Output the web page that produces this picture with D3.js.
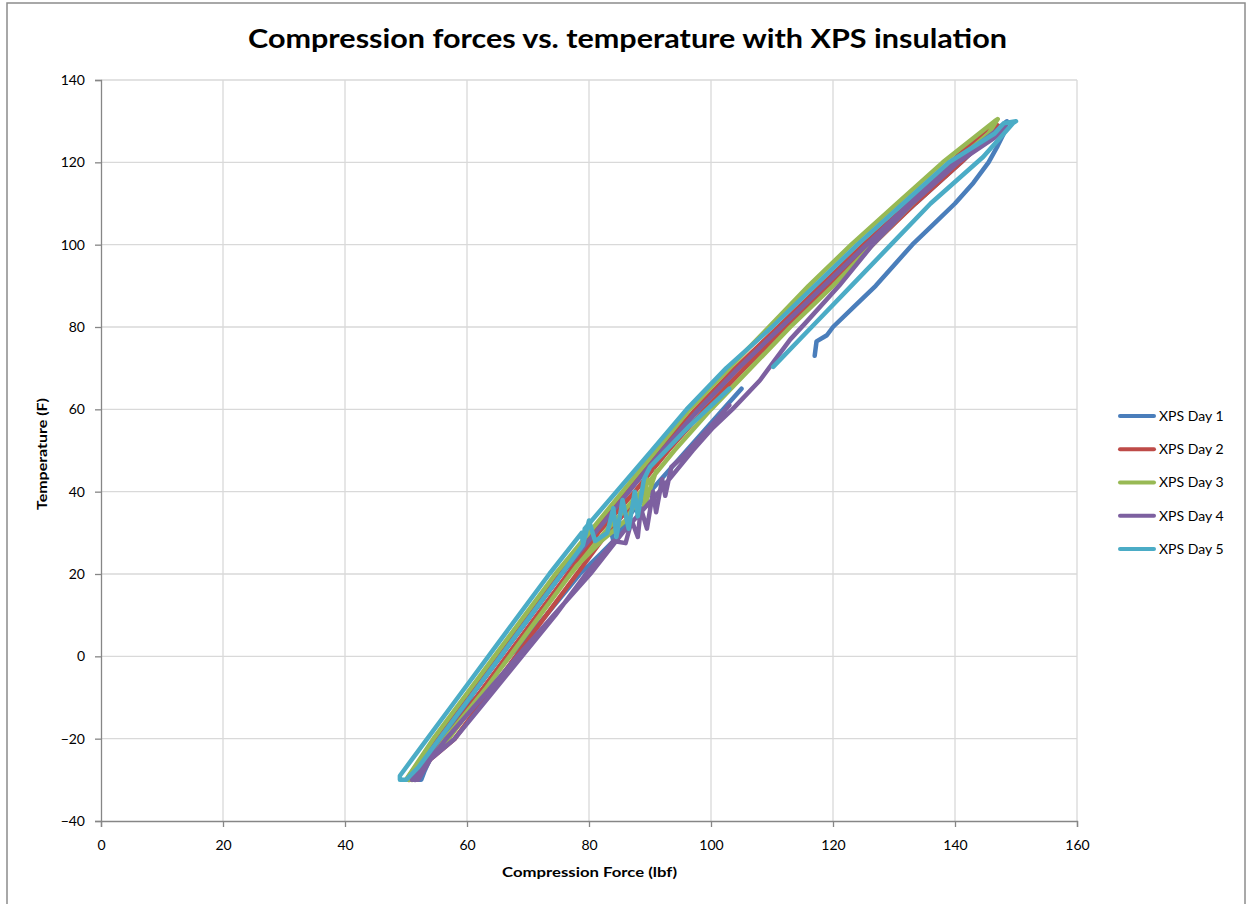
<!DOCTYPE html>
<html><head><meta charset="utf-8">
<script src="https://cdn.jsdelivr.net/npm/d3@7"></script>
<style>
html,body{margin:0;padding:0;background:#fff;}
svg{display:block;}
</style></head>
<body>
<svg id="chart" width="1249" height="904"></svg>
<script>
// ---- Data (Compression force lbf, Temperature F) ----
const xTicks = [0, 20, 40, 60, 80, 100, 120, 140, 160];
const yTicks = [-40, -20, 0, 20, 40, 60, 80, 100, 120, 140];
const seriesNames = ["XPS Day 1", "XPS Day 2", "XPS Day 3", "XPS Day 4", "XPS Day 5"];
const seriesColors = ["#4A7EBB", "#BE4B48", "#98B954", "#7D60A0", "#4BACC6"];

const day1 = [
  [117,73],[117.3,76.5],[119,78],[120,80],[123.5,85],[127,90],[130,95],[133,100],[136.5,105],
  [140,110],[143,115],[145.5,120],[147,124],[148,127],[148.5,130],
  [146,127],[141,120],[133.5,110],[126,100],[119,90],[112,80],[104.5,70],[98,60],[92,50],
  [86.5,40],[81,30],[75.5,20],[70.5,10],[65.5,0],[60.5,-10],[55.5,-20],[51.5,-30],
  [52.5,-30],[53,-28],[55.5,-20],[61.5,-10],[67,0],[73,10],[78.5,20],[82,25],[84,28],
  [83.5,31],[85,30],[87,35],[90,40],[96,50],[102,60],[105,65]
];
const day2 = [
  [50.5,-30],[52,-27],[56.5,-20],[61.5,-10],[66.5,0],[71.5,10],[76.5,20],[81.5,30],[87.5,40],
  [93,50],[99,60],[105.5,70],[112.5,80],[119.5,90],[126.5,100],[133.5,110],[141,120],
  [146.5,128],[147,129],
  [146,129],[140,121],[132.5,110],[125,100],[118,90],[111,80],[104,70],[97.5,60],[91.5,50],
  [86,40],[80.5,30],[75,20],[70,10],[65,0],[60,-10],[55,-20],[50.5,-29],[50.5,-30],
  [51.5,-30],[54,-25],[58,-20],[63,-10],[68,0],[73,10],[78,20],[83,30],[86,35],[89,40]
];
const day3 = [
  [51,-30],[53,-26],[57,-20],[62,-10],[67,0],[72,10],[77,20],[82.5,30],[88.5,40],[94,50],
  [100,60],[106.5,70],[113,80],[120,90],[126.5,100],[133,110],[140,120],[145.5,127],[147,130.5],
  [146.5,130],[138,120],[130.5,110],[123,100],[116,90],[109.5,80],[103,70],[96.5,60],[91,50],
  [85.5,40],[80,30],[74.5,20],[69.5,10],[64.5,0],[59.5,-10],[54.5,-20],[50,-30],
  [50.5,-30],[53.5,-24],[57.5,-18],[63,-8],[68,2],[73,12],[78,22],[82,28],[86,33],[88,38],
  [89.5,43],[89,36],[91,45]
];
const day4 = [
  [51.5,-30],[53,-27],[56.6,-20],[62.5,-10],[68.3,0],[74.2,10],[80.2,20],[85.5,30],[91.5,40],
  [97,50],[100.3,55.5],[103.5,60],[108,67],[110.5,72],[113,77],[115.5,81],[121,90],[126.5,100],
  [133,110],[140.5,120],[146.5,126],[148.5,128.5],
  [147.5,128.5],[140,120],[132.5,110],[125.5,100],[118.5,90],[111.5,80],[104.5,70],[98,60],
  [92,50],[86.5,40],[81,30],[75.5,20],[70.5,10],[65.5,0],[60.5,-10],[55.5,-20],[51,-30],
  [52,-30],[54,-25],[58,-20],[63.5,-10],[69,0],[74.5,10],[79.5,20],[83,26],[84,28],[86,27.5],
  [87,33],[88,29],[88.5,36],[89.5,31],[90.5,40],[91,35],[92,43],[92.5,39],[93.5,46],[95,48],
  [100,56],[103,61]
];
const day5 = [
  [110.2,70.3],[116.5,80],[123,90],[129.5,100],[136,110],[144.6,121.3],[148.5,127.8],
  [149.5,129.5],[150,130],[148,129.5],[146.5,127],[139,120],[131.5,110],[124,100],[117,90],
  [110,80],[102.5,70],[96,60],[90.3,50],[84.5,40],[79.3,31],[79,27.5],[78.8,30],[73.5,20],
  [68.5,10],[63.5,0],[58.5,-10],[53.5,-20],[49,-29],[49,-30],
  [50,-30],[52,-27],[55.5,-20],[60.5,-10],[65.5,0],[70.5,10],[75.5,20],[79,27],[80,33],
  [81,28],[83,30],[84,36],[84.5,29],[85.5,38],[86.5,31],[87.5,40],[88,34],[89,43],[90,46],
  [96.5,56],[103,65]
];
const seriesData = [day1, day2, day3, day4, day5];

// ---- Layout ----
const svg = d3.select("#chart");
const mLeft = 101, mRight = 1077, mTop = 80, mBottom = 821;
const x = d3.scaleLinear().domain([0, 160]).range([mLeft, mRight]);
const y = d3.scaleLinear().domain([-40, 140]).range([mBottom, mTop]);

// outer border
svg.append("rect").attr("x", 7).attr("y", 3).attr("width", 1238).attr("height", 910)
  .attr("fill", "#fff").attr("stroke", "#8c8c8c").attr("stroke-width", 1.5);

// gridlines
svg.append("g").selectAll("line").data(xTicks.filter(d => d !== 0)).join("line")
  .attr("x1", d => x(d)).attr("x2", d => x(d)).attr("y1", mTop).attr("y2", mBottom)
  .attr("stroke", "#d9d9d9").attr("stroke-width", 1.3);
svg.append("g").selectAll("line").data(yTicks.filter(d => d !== -40)).join("line")
  .attr("x1", mLeft).attr("x2", mRight).attr("y1", d => y(d)).attr("y2", d => y(d))
  .attr("stroke", "#d9d9d9").attr("stroke-width", 1.3);

// axes
const xAxis = d3.axisBottom(x).tickValues(xTicks).tickSize(6).tickPadding(10);
const yAxis = d3.axisLeft(y).tickValues(yTicks).tickSize(6).tickPadding(10);
const gx = svg.append("g").attr("transform", `translate(0,${mBottom})`).call(xAxis);
const gy = svg.append("g").attr("transform", `translate(${mLeft},0)`).call(yAxis);
[gx, gy].forEach(g => {
  g.select(".domain").attr("stroke", "#868686").attr("stroke-width", 1.3);
  g.selectAll(".tick line").attr("stroke", "#868686").attr("stroke-width", 1.3);
  g.selectAll(".tick text").attr("fill", "#000").attr("font-family", "Lato, 'Open Sans', sans-serif")
    .attr("font-size", 14);
});
gx.selectAll(".tick text").attr("dy", "0.9em");

// series lines
const line = d3.line().x(d => x(d[0])).y(d => y(d[1]));
const plot = svg.append("g");
seriesData.forEach((data, i) => {
  plot.append("path").datum(data).attr("d", line)
    .attr("fill", "none").attr("stroke", seriesColors[i]).attr("stroke-width", 4.5)
    .attr("stroke-linejoin", "round").attr("stroke-linecap", "round");
});

// title
svg.append("text").attr("x", 627.5).attr("y", 48).attr("text-anchor", "middle")
  .attr("font-family", "Lato, 'Open Sans', sans-serif").attr("font-weight", "bold")
  .attr("font-size", 27).attr("textLength", 759).attr("lengthAdjust", "spacingAndGlyphs")
  .text("Compression forces vs. temperature with XPS insulation");

// axis titles
svg.append("text").attr("x", 589.5).attr("y", 877).attr("text-anchor", "middle")
  .attr("font-family", "Lato, 'Open Sans', sans-serif").attr("font-weight", "bold")
  .attr("font-size", 14).attr("textLength", 175).attr("lengthAdjust", "spacingAndGlyphs")
  .text("Compression Force (lbf)");
svg.append("text").attr("transform", "translate(47,454) rotate(-90)").attr("text-anchor", "middle")
  .attr("font-family", "Lato, 'Open Sans', sans-serif").attr("font-weight", "bold")
  .attr("font-size", 14).attr("textLength", 112).attr("lengthAdjust", "spacingAndGlyphs")
  .text("Temperature (F)");

// legend
const legendY = d3.scalePoint().domain(seriesNames).range([416, 549]);
const lg = svg.append("g");
seriesNames.forEach((name, i) => {
  lg.append("line").attr("x1", 1120).attr("x2", 1154)
    .attr("y1", legendY(name)).attr("y2", legendY(name))
    .attr("stroke", seriesColors[i]).attr("stroke-width", 4).attr("stroke-linecap", "round");
  lg.append("text").attr("x", 1159).attr("y", legendY(name)).attr("dy", "0.35em")
    .attr("font-family", "Lato, 'Open Sans', sans-serif").attr("font-size", 14)
    .text(name);
});
</script>
</body></html>
